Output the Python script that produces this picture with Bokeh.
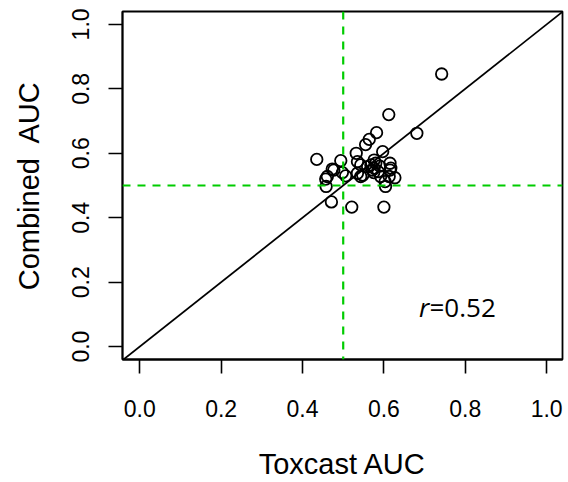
from bokeh.plotting import figure
from bokeh.models import Range1d, FixedTicker, Slope, Span, Label
from bokeh.embed import file_html
from bokeh.resources import INLINE

# Data (Toxcast AUC vs Combined AUC)
toxcast_auc = [0.742, 0.612, 0.681, 0.582, 0.564, 0.555, 0.532, 0.597, 0.435, 0.494,
               0.535, 0.576, 0.543, 0.568, 0.580, 0.615, 0.617, 0.473, 0.498, 0.506,
               0.535, 0.543, 0.572, 0.586, 0.592, 0.613, 0.627, 0.461, 0.457, 0.458,
               0.603, 0.604, 0.471, 0.521, 0.600, 0.576, 0.560, 0.590, 0.575, 0.615,
               0.477, 0.548]
combined_auc = [0.846, 0.720, 0.662, 0.664, 0.643, 0.627, 0.600, 0.605, 0.581, 0.577,
                0.574, 0.579, 0.564, 0.564, 0.569, 0.569, 0.554, 0.551, 0.540, 0.530,
                0.538, 0.528, 0.548, 0.543, 0.528, 0.528, 0.524, 0.528, 0.520, 0.497,
                0.512, 0.497, 0.449, 0.433, 0.433, 0.554, 0.558, 0.560, 0.540, 0.548,
                0.548, 0.532]
tick_values = [0.0, 0.2, 0.4, 0.6, 0.8, 1.0]
tick_labels = ["0.0", "0.2", "0.4", "0.6", "0.8", "1.0"]
threshold = 0.5
r_value = "0.52"

FONT = "Liberation Sans"

p = figure(width=568, height=482, output_backend="svg", toolbar_location=None,
           x_range=Range1d(-0.0425, 1.039), y_range=Range1d(-0.04, 1.04),
           min_border_left=122, min_border_right=6, min_border_top=11, min_border_bottom=121,
           x_axis_label="Toxcast AUC", y_axis_label="Combined\u00a0 AUC")
p.grid.visible = False
p.outline_line_color = "black"
p.outline_line_width = 1.8
p.background_fill_color = "white"
p.border_fill_color = "white"

overrides = {v: s for v, s in zip(tick_values, tick_labels)}
for ax in (p.xaxis[0], p.yaxis[0]):
    ax.ticker = FixedTicker(ticks=tick_values)
    ax.major_label_overrides = overrides
    ax.major_tick_out = 14
    ax.major_tick_in = 0
    ax.minor_tick_out = 0
    ax.minor_tick_in = 0
    ax.major_tick_line_width = 1.6
    ax.axis_line_width = 1.8
    ax.major_label_text_font = FONT
    ax.major_label_text_font_size = "23px"
    ax.major_label_text_color = "black"
    ax.axis_label_text_font = FONT
    ax.axis_label_text_font_size = "29px"
    ax.axis_label_text_font_style = "normal"
    ax.axis_label_text_color = "black"

p.xaxis[0].major_label_standoff = 26
p.xaxis[0].axis_label_standoff = 28
p.yaxis[0].major_label_standoff = 19
p.yaxis[0].major_label_orientation = "vertical"
p.yaxis[0].axis_label_standoff = 25

# reference lines
p.add_layout(Span(location=threshold, dimension="height", line_color="#00CC00",
                  line_width=2.2, line_dash="8 7"))
p.add_layout(Span(location=threshold, dimension="width", line_color="#00CC00",
                  line_width=2.2, line_dash="8 7"))
p.add_layout(Slope(gradient=1, y_intercept=0, line_color="black", line_width=1.7))

p.scatter(toxcast_auc, combined_auc, marker="circle", size=11.5, fill_color=None,
          line_color="black", line_width=1.8)

p.add_layout(Label(x=0.686, y=0.066, text="r", text_font="Open Sans",
                   text_font_style="italic", text_font_size="26px", text_color="black"))
p.add_layout(Label(x=0.712, y=0.066, text="=" + r_value, text_font="Open Sans",
                   text_font_size="26px", text_color="black"))

open("out.html", "w").write(file_html(p, INLINE))
